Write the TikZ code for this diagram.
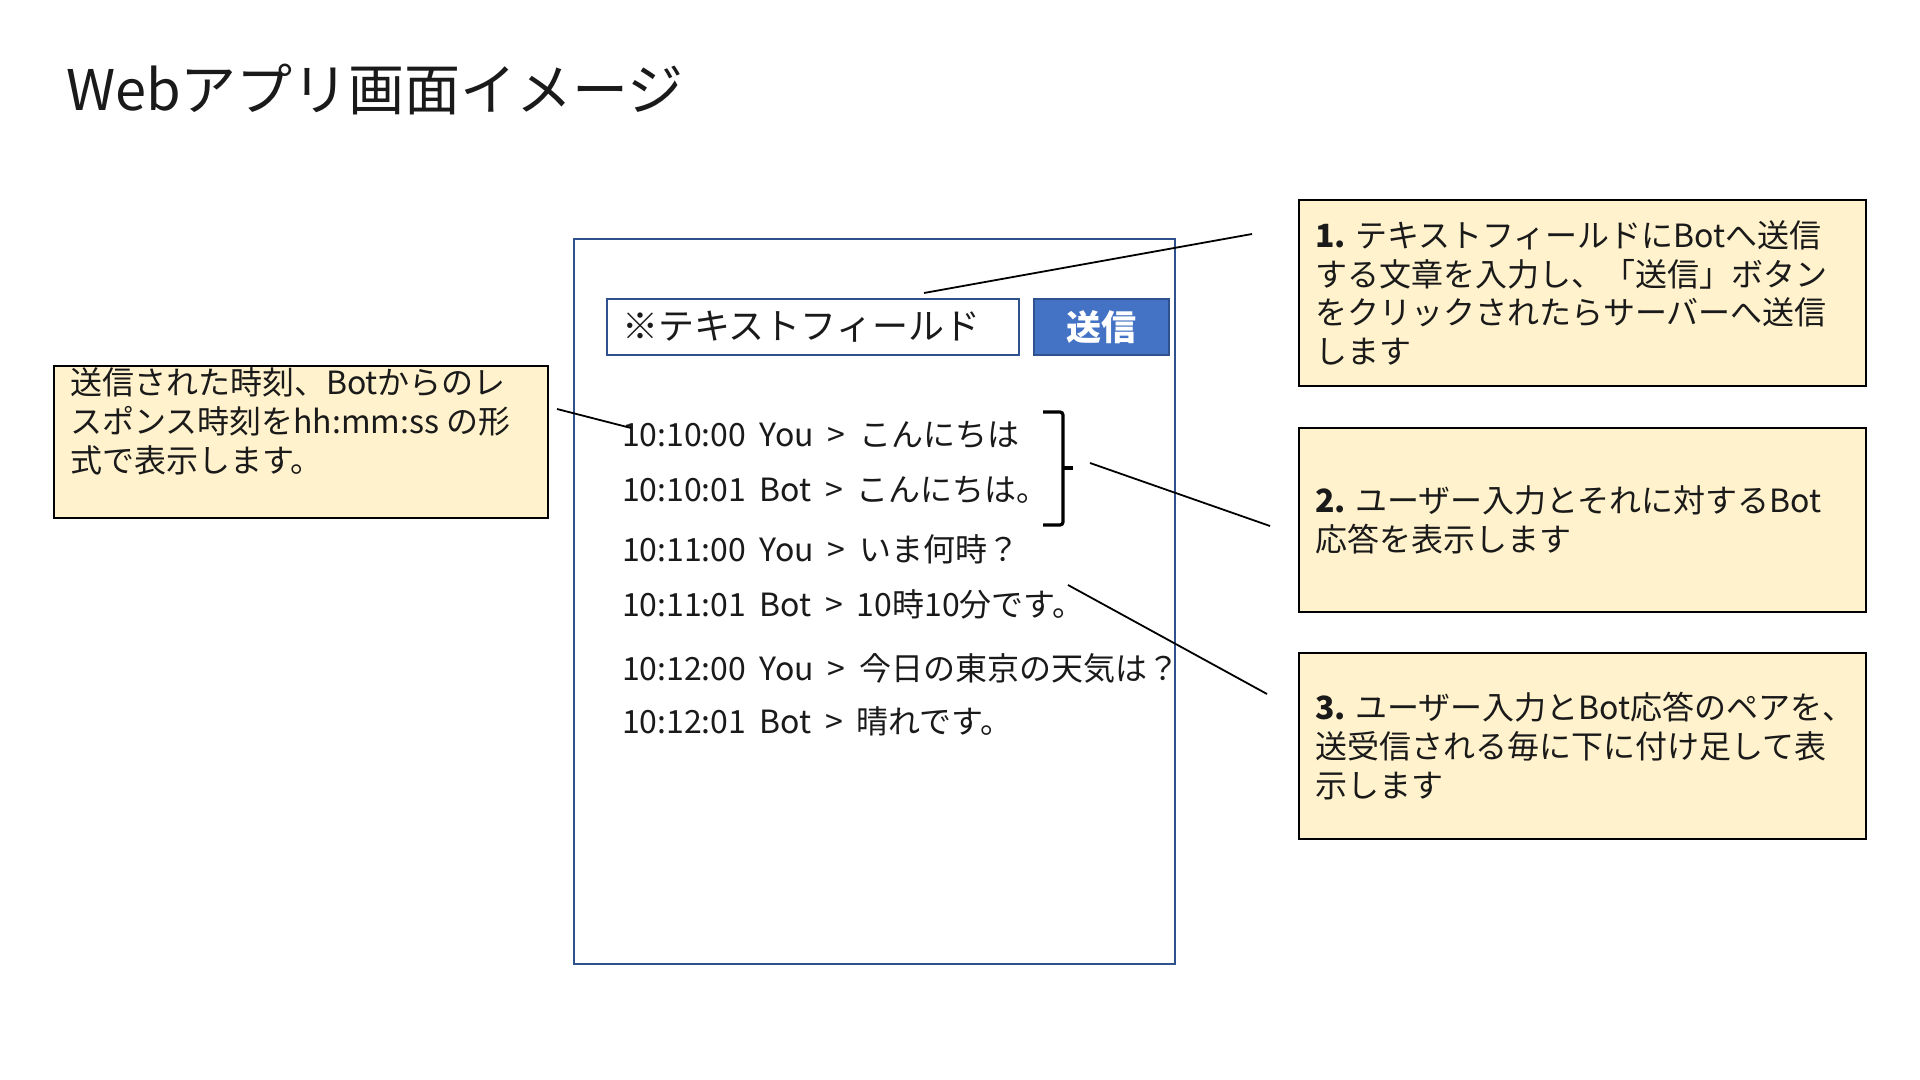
\documentclass[tikz,border=0pt]{standalone}
\usepackage{fontspec}
\setmainfont{Noto Sans CJK JP}
\newfontfamily\chatfont{Noto Sans CJK JP}[WordSpace=1.9]
\definecolor{notefill}{HTML}{FFF2CC}
\definecolor{frameblue}{HTML}{2F528F}
\definecolor{btnblue}{HTML}{4472C4}
\definecolor{txt}{HTML}{1A1A1A}
\begin{document}
\begin{tikzpicture}[x=0.5pt,y=-0.5pt,
  every node/.style={inner sep=0pt,outer sep=0pt,text=txt},
  notebox/.style={draw=black,line width=1pt,fill=notefill,anchor=north west},
  notetext/.style={anchor=west,align=left,font=\fontsize{16pt}{19.4pt}\selectfont},
  chatline/.style={anchor=west,font=\chatfont\fontsize{16pt}{19pt}\selectfont},
  leader/.style={draw=black,line width=0.9pt},
  framebox/.style={draw=frameblue,line width=0.9pt,anchor=north west}]
\useasboundingbox[fill=white] (0,0) rectangle (1920,1080);

% title
\node[anchor=west,font=\fontsize{28pt}{32pt}\selectfont] (title) at (66,89) {Webアプリ画面イメージ};

% phone frame
\node[framebox,minimum width=300.5pt,minimum height=362.5pt] (phone) at (574,239) {};
\node[framebox,minimum width=206pt,minimum height=28pt] (field) at (607,299) {};
\node[anchor=west,font=\fontsize{18pt}{20pt}\selectfont] (fieldtext) at (622,327) {※テキストフィールド};
\node[framebox,fill=btnblue,minimum width=67.5pt,minimum height=28pt] (btn) at (1034,299) {};
\node[font=\fontsize{17.5pt}{20pt}\selectfont\bfseries,text=white] (btntext) at (btn.center) {送信};

% chat lines
\node[chatline] (l1) at (622,435) {10:10:00 You > こんにちは};
\node[chatline] (l2) at (622,490) {10:10:01 Bot > こんにちは。};
\node[chatline] (l3) at (622,549) {10:11:00 You > いま何時？};
\node[chatline] (l4) at (622,604) {10:11:01 Bot > 10時10分です。};
\node[chatline] (l5) at (622,668) {10:12:00 You > 今日の東京の天気は？};
\node[chatline] (l6) at (622,721) {10:12:01 Bot > 晴れです。};

% brace
\draw[line width=1.6pt,rounded corners=1.5pt] (1043,412) -- (1063,412) -- (1063,525) -- (1043,525);
\draw[line width=1.6pt] (1063,468) -- (1073,468);

% left note
\node[notebox,minimum width=247pt,minimum height=76pt] (lnote) at (54,366) {};
\node[notetext,font=\fontsize{16pt}{19.5pt}\selectfont] (lnotetext) at (70,421) {送信された時刻、Botからのレ\\スポンス時刻をhh:mm:ss の形\\式で表示します。};

% right notes
\node[notebox,minimum width=283.5pt,minimum height=93pt] (n1) at (1299,200) {};
\node[notetext] (n1text) at ([xshift=8pt]n1.west) {\textbf{1.} テキストフィールドにBotへ送信\\する文章を入力し、「送信」ボタン\\をクリックされたらサーバーへ送信\\します};
\node[notebox,minimum width=283.5pt,minimum height=92pt] (n2) at (1299,428) {};
\node[notetext] (n2text) at ([xshift=8pt]n2.west) {\textbf{2.} ユーザー入力とそれに対するBot\\応答を表示します};
\node[notebox,minimum width=283.5pt,minimum height=93pt] (n3) at (1299,653) {};
\node[notetext] (n3text) at ([xshift=8pt]n3.west) {\textbf{3.} ユーザー入力とBot応答のペアを、\\送受信される毎に下に付け足して表\\示します};

% leader lines
\coordinate (a1) at (924,293);
\coordinate (b1) at (1252,234);
\coordinate (a2) at (557,409);
\coordinate (b2) at (631,428);
\coordinate (a3) at (1090,463);
\coordinate (b3) at (1270,526);
\coordinate (a4) at (1068,585);
\coordinate (b4) at (1267,694);
\draw[leader] (a1) -- (b1);
\draw[leader] (a2) -- (b2);
\draw[leader] (a3) -- (b3);
\draw[leader] (a4) -- (b4);
\end{tikzpicture}
\end{document}
